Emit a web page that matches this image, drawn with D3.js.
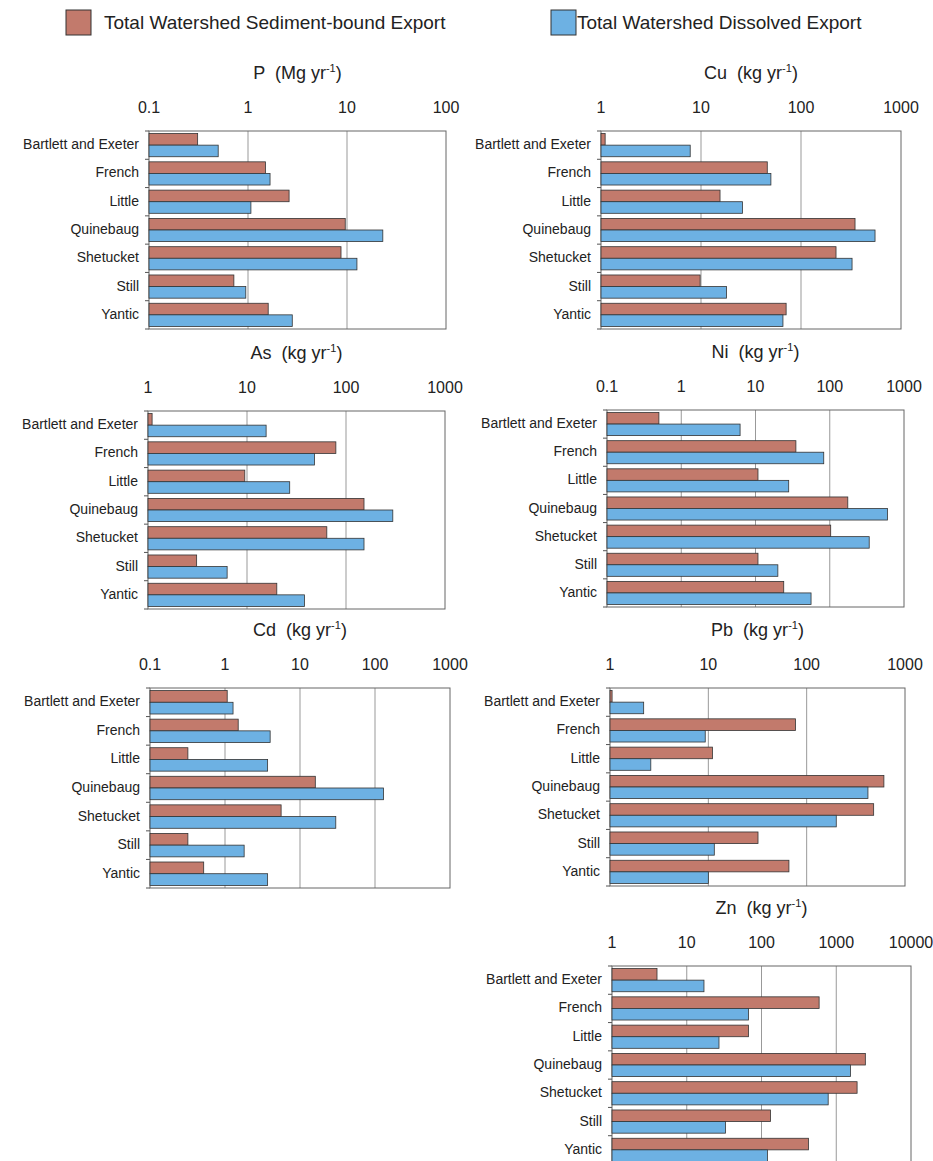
<!DOCTYPE html>
<html><head><meta charset="utf-8">
<script src="https://cdn.jsdelivr.net/npm/d3@7"></script>
<style>body{margin:0;background:#fff}text{font-family:"Liberation Sans",Arial,sans-serif;fill:#222;white-space:pre}</style>
</head><body><svg id="chart" width="933" height="1161"></svg>
<script>
const rivers = ["Bartlett and Exeter", "French", "Little", "Quinebaug", "Shetucket", "Still", "Yantic"];
const seriesNames = ["Total Watershed Sediment-bound Export", "Total Watershed Dissolved Export"];
const seriesColors = ["#c27a6c", "#6db1e3"];

const pSed = [0.31, 1.5, 2.6, 9.6, 8.7, 0.72, 1.6];
const pDis = [0.5, 1.67, 1.07, 23, 12.6, 0.95, 2.8];
const cuSed = [1.1, 46, 15.5, 347, 224, 9.8, 71];
const cuDis = [7.8, 50, 26, 550, 324, 18, 66];
const asSed = [1.1, 79, 9.5, 152, 64, 3.1, 20];
const asDis = [15.6, 48, 27, 297, 152, 6.3, 38];
const niSed = [0.5, 35, 10.8, 175, 103, 10.8, 24];
const niDis = [6.2, 83, 28, 600, 340, 20, 56];
const cdSed = [1.07, 1.5, 0.32, 16, 5.6, 0.32, 0.52];
const cdDis = [1.28, 4, 3.7, 130, 30, 1.8, 3.7];
const pbSed = [1.05, 77, 11, 610, 480, 32, 66];
const pbDis = [2.2, 9.3, 2.6, 420, 200, 11.5, 10];
const znSed = [4, 590, 67, 2450, 1900, 132, 425];
const znDis = [17, 67, 27, 1550, 780, 33, 120];

const tickLabels = {
  P: ["0.1", "1", "10", "100"],
  Cu: ["1", "10", "100", "1000"],
  As: ["1", "10", "100", "1000"],
  Ni: ["0.1", "1", "10", "100", "1000"],
  Cd: ["0.1", "1", "10", "100", "1000"],
  Pb: ["1", "10", "100", "1000"],
  Zn: ["1", "10", "100", "1000", "10000"]
};

const panels = [
  {el: "P", unit: "Mg", sed: pSed, dis: pDis, x0: 149, x1: 446, y0: 131, y1: 329},
  {el: "Cu", unit: "kg", sed: cuSed, dis: cuDis, x0: 601, x1: 901, y0: 131, y1: 329},
  {el: "As", unit: "kg", sed: asSed, dis: asDis, x0: 148, x1: 445, y0: 411, y1: 609},
  {el: "Ni", unit: "kg", sed: niSed, dis: niDis, x0: 607, x1: 904, y0: 410, y1: 607},
  {el: "Cd", unit: "kg", sed: cdSed, dis: cdDis, x0: 150, x1: 450, y0: 688, y1: 888},
  {el: "Pb", unit: "kg", sed: pbSed, dis: pbDis, x0: 610, x1: 905, y0: 688, y1: 886},
  {el: "Zn", unit: "kg", sed: znSed, dis: znDis, x0: 612, x1: 911, y0: 966, y1: 1164}
];

const svg = d3.select("#chart");

// legend
const leg = svg.append("g");
[[66, 104], [551, 577]].forEach((p, i) => {
  leg.append("rect").attr("x", p[0]).attr("y", 10).attr("width", 25).attr("height", 25)
    .attr("fill", seriesColors[i]).attr("stroke", "#333").attr("stroke-width", 1);
  leg.append("text").attr("x", p[1]).attr("y", 29).attr("font-size", 19).text(seriesNames[i]);
});

panels.forEach(pn => {
  const labels = tickLabels[pn.el];
  const dom = [+labels[0], +labels[labels.length - 1]];
  const x = d3.scaleLog().domain(dom).range([pn.x0, pn.x1]);
  const y = d3.scaleBand().domain(rivers).range([pn.y0, pn.y1]);
  const yIn = d3.scaleBand().domain([0, 1]).range([0, y.bandwidth()]).paddingOuter(0.22).paddingInner(0);
  const g = svg.append("g");

  // title
  const t = g.append("text").attr("x", (pn.x0 + pn.x1) / 2).attr("y", pn.y0 - 52)
    .attr("text-anchor", "middle").attr("font-size", 18);
  t.append("tspan").text(pn.el + "  (" + pn.unit + " yr");
  t.append("tspan").attr("dy", -7).attr("font-size", 11).text("-1");
  t.append("tspan").attr("dy", 7).text(")");

  // top tick labels
  g.selectAll(".tl").data(labels).join("text")
    .attr("x", d => x(+d)).attr("y", pn.y0 - 18).attr("text-anchor", "middle")
    .attr("font-size", 16).text(d => d);

  // grid
  g.selectAll(".grid").data(labels.slice(1, -1)).join("line")
    .attr("x1", d => x(+d)).attr("x2", d => x(+d)).attr("y1", pn.y0).attr("y2", pn.y1)
    .attr("stroke", "#999").attr("stroke-width", 1);

  // frame
  g.append("rect").attr("x", pn.x0).attr("y", pn.y0).attr("width", pn.x1 - pn.x0)
    .attr("height", pn.y1 - pn.y0).attr("fill", "none").attr("stroke", "#666");

  // left ticks at band boundaries
  const bounds = rivers.map(r => y(r)).concat([pn.y1]);
  g.selectAll(".lt").data(bounds).join("line")
    .attr("x1", pn.x0 - 4).attr("x2", pn.x0).attr("y1", d => d).attr("y2", d => d)
    .attr("stroke", "#555");

  // category labels
  g.selectAll(".cl").data(rivers).join("text")
    .attr("x", pn.x0 - 10).attr("y", d => y(d) + y.bandwidth() / 2 + 4)
    .attr("text-anchor", "end").attr("font-size", 14).text(d => d);

  // bars
  [pn.sed, pn.dis].forEach((vals, si) => {
    g.selectAll(".b" + si).data(vals).join("rect")
      .attr("x", pn.x0)
      .attr("y", (d, i) => y(rivers[i]) + yIn(si))
      .attr("width", d => x(d) - pn.x0)
      .attr("height", yIn.bandwidth())
      .attr("fill", seriesColors[si]).attr("stroke", "#333").attr("stroke-width", 0.8);
  });
});
</script></body></html>
